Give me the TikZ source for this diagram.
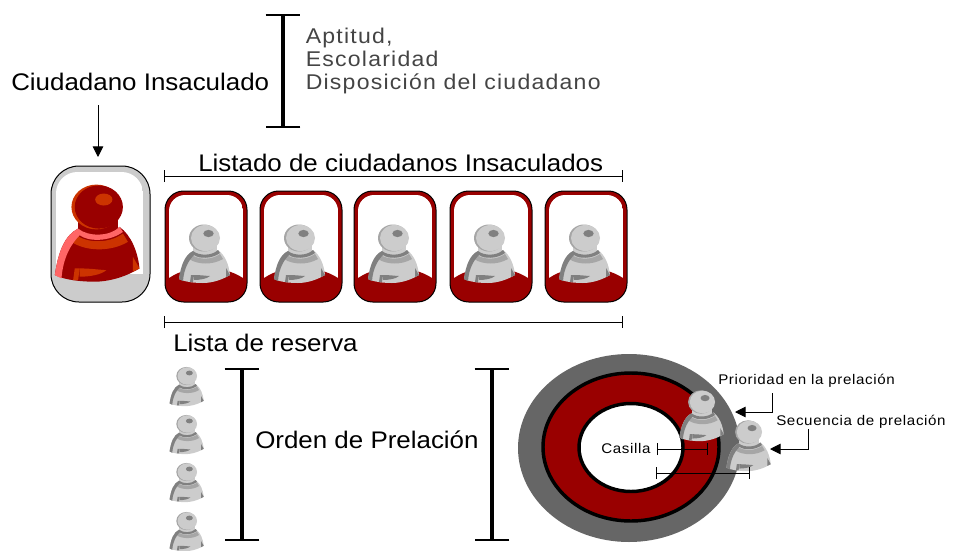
\documentclass[tikz,border=0pt]{standalone}
\usepackage{fontspec}
\setmainfont{Liberation Sans}[FakeStretch=1.08]
\newfontfamily\spacedfont{Liberation Sans}[FakeStretch=1.08,LetterSpace=5.8]
\newfontfamily\smallspaced{Liberation Sans}[FakeStretch=1.08,LetterSpace=4.6]
\usetikzlibrary{arrows.meta}
\definecolor{cardred}{HTML}{990000}
\definecolor{orangered}{HTML}{CC3300}
\definecolor{pinkish}{HTML}{FF6666}
\definecolor{lightgrey}{HTML}{CCCCCC}
\definecolor{midgrey}{HTML}{808080}
\definecolor{softgrey}{HTML}{A6A6A6}
\definecolor{ringgrey}{HTML}{666666}
\definecolor{textgrey}{HTML}{444444}
\newcommand{\txtsize}[1]{\fontsize{#1}{#1}\selectfont}
% #1 main, #2 shoulder edge, #3 dart, #4 head crescent, #5 head spot, #6 chest band
\newcommand{\personbody}[6]{%
    \fill[#1] (-12,8) rectangle (12,20);
    \fill[#1] (-26,41) .. controls (-24,27) and (-20,17) .. (-12,13)
      .. controls (-6,18) and (7,18) .. (13,12)
      .. controls (20,17) and (24,27) .. (25,37)
      .. controls (15,43) and (5,45) .. (-2,45)
      .. controls (-10,45) and (-20,44) .. (-26,41) -- cycle;
    \fill[#6] (-13,17) .. controls (-6,22) and (7,22) .. (15,16)
      -- (18,21) .. controls (8,27) and (-7,27) .. (-16,21) -- cycle;
    \fill[#2] (-26,41) .. controls (-24,27) and (-20,17) .. (-12,13)
      .. controls (-6,18) and (7,18) .. (13,12) -- (15,15)
      .. controls (7,21) and (-6,21) .. (-11,17)
      .. controls (-16,22) and (-21,30) .. (-22,43) -- cycle;
    \fill[#3] (-11,37) -- (-12,44) -- (-15,44) -- (-14,37) -- cycle;
    \fill[#3] (-11,37) .. controls (-4,37) and (2,38) .. (5,38)
      .. controls (2,41) and (-6,42) .. (-11,42) -- cycle;
    \fill[#3] (25,37) -- (21,30) -- (21,39) -- cycle;
    \fill[#4] (-1,0) ellipse (15 and 13.5);
    \fill[#1] (0.5,0) ellipse (14.5 and 13);
    \fill[#5] (3.5,-4.5) ellipse (5.2 and 3.6);
}
\newcommand{\greyfigure}{\personbody{lightgrey}{midgrey}{midgrey}{softgrey}{midgrey}{softgrey}}
\tikzset{
  x=0.75pt,y=-0.75pt,
  lbl/.style={inner sep=0pt,anchor=base west},
  biglbl/.style={lbl,font=\txtsize{18}},
  smalllbl/.style={lbl,font=\smallspaced\txtsize{10.5}},
  greylbl/.style={lbl,font=\spacedfont\txtsize{16},text=textgrey},
  heavybar/.style={line width=3pt,{Bar[width=26pt,line width=1.5pt]}-{Bar[width=26pt,line width=1.5pt]}},
  thinbar/.style={line width=0.6pt,{Bar[width=9pt]}-{Bar[width=9pt]}},
  callout/.style={line width=0.7pt,-{Triangle[length=8pt,width=8pt]}},
  pics/greyperson/.style={code={\greyfigure}},
  pics/redperson/.style={code={\personbody{cardred}{pinkish}{orangered}{orangered}{orangered}{orangered}}},
  pics/smallcard/.style={code={
    \begin{scope}
      \clip[rounded corners=14] (0,0) rectangle (82,111);
      \fill[cardred] (0,0) rectangle (82,111);
      \begin{scope}
        \clip[rounded corners=12] (4,4) rectangle (78,130);
        \fill[white] (4,4) rectangle (78,111);
      \end{scope}
      \fill[cardred] (4,87) .. controls (15,80) and (25,77) .. (40,77)
        .. controls (55,77) and (67,80) .. (78,87) -- (78,111) -- (4,111) -- cycle;
    \end{scope}
    \draw[black,line width=0.75pt,rounded corners=14] (0,0) rectangle (82,111);
    \begin{scope}[shift={(40,47)}]
      \greyfigure
    \end{scope}
  }}
}
\begin{document}
\begin{tikzpicture}
\useasboundingbox (0,0) rectangle (953,550);
% texts
\node[biglbl] (citizen) at (11,90) {Ciudadano Insaculado};
\node[greylbl] (apt) at (305.5,43.5) {Aptitud,};
\node[greylbl] (esc) at (305.5,66.5) {Escolaridad};
\node[greylbl] (dis) at (305.5,89.5) {Disposición del ciudadano};
\node[biglbl] (listado) at (198,171) {Listado de ciudadanos Insaculados};
\node[biglbl] (reserva) at (173,351) {Lista de reserva};
\node[biglbl] (orden) at (255,448) {Orden de Prelación};
% large card
\coordinate (bigcardtl) at (51,166);
\coordinate (bigcardbr) at (150,302);
\fill[lightgrey,rounded corners=21] (bigcardtl) rectangle (bigcardbr);
\begin{scope}
  \clip[rounded corners=16] (56,172) rectangle (143,300);
  \fill[white] (56,172) rectangle (143,274);
\end{scope}
\pic at (98,207) [scale=1.66] {redperson};
\draw[line width=0.75pt,rounded corners=21] (bigcardtl) rectangle (bigcardbr);
% arrow to the large card
\coordinate (arrowtop) at (98,105);
\coordinate (arrowtip) at (98,157);
\draw[callout] (arrowtop) -- (arrowtip);
% brackets
\coordinate (b1a) at (283,14); \coordinate (b1b) at (283,128);
\coordinate (b2a) at (242,368); \coordinate (b2b) at (242,541);
\coordinate (b3a) at (492,368); \coordinate (b3b) at (492,541);
\draw[heavybar] (b1a) -- (b1b);
\draw[heavybar] (b2a) -- (b2b);
\draw[heavybar] (b3a) -- (b3b);
\coordinate (t1a) at (164,176); \coordinate (t1b) at (623,176);
\coordinate (t2a) at (164,322); \coordinate (t2b) at (623,322);
\draw[thinbar] (t1a) -- (t1b);
\draw[thinbar] (t2a) -- (t2b);
% cards
\foreach \cx in {165,260,354,450,545} {\pic at (\cx,191) {smallcard};}
% reserve list
\foreach \py in {376,424,472,521} {\pic at (187,\py) [scale=0.67] {greyperson};}
% ring
\fill[ringgrey] (629,448) ellipse (111 and 94);
\draw[fill=cardred,line width=2.6pt] (631,447) ellipse (88 and 74);
\draw[fill=white,line width=2.6pt] (631,447.5) ellipse (52 and 44);
\pic at (702,402) [scale=0.87] {greyperson};
\pic at (749,432) [scale=0.87] {greyperson};
\node[smalllbl] (casilla) at (601,453) {Casilla};
\node[smalllbl] (prio) at (718,384) {Prioridad en la prelación};
\node[smalllbl] (secu) at (776,425) {Secuencia de prelación};
% measures
\coordinate (m1a) at (657,449); \coordinate (m1b) at (708,449);
\coordinate (m2a) at (656,473); \coordinate (m2b) at (750,473);
\draw[thinbar,black] (m1a) -- (m1b);
\draw[thinbar,black] (m2a) -- (m2b);
% callouts
\coordinate (c1s) at (772,393); \coordinate (c1m) at (772,412); \coordinate (c1e) at (735,412);
\coordinate (c2s) at (808,429); \coordinate (c2m) at (808,449); \coordinate (c2e) at (770,449);
\draw[callout] (c1s) -- (c1m) -- (c1e);
\draw[callout] (c2s) -- (c2m) -- (c2e);
\end{tikzpicture}
\end{document}
